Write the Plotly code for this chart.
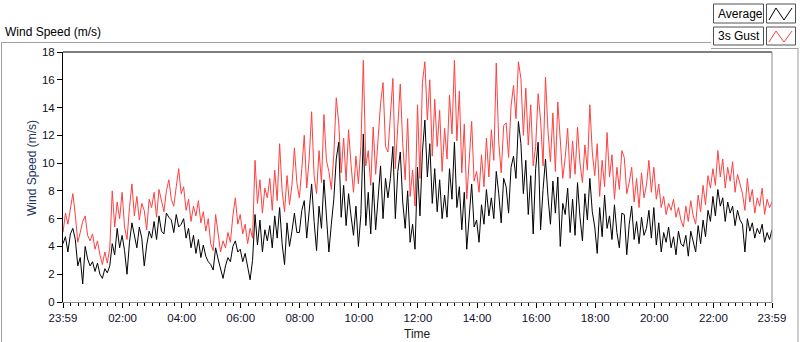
import plotly.graph_objects as go
import pandas as pd

# ---- data: 5-minute samples from 23:59 to 23:59 next day ----
gust = [
    5.0, 6.4, 5.6, 6.9, 7.8, 6.3, 4.3, 5.0, 5.8, 6.2, 4.8, 4.4,
    4.9, 3.8, 4.4, 3.4, 2.7, 3.6, 2.8, 3.9, 8.0, 5.4, 7.2, 6.0,
    7.9, 5.4, 4.5, 6.8, 8.5, 6.2, 7.6, 5.9, 7.1, 6.6, 5.2, 7.4,
    6.8, 7.9, 6.1, 8.1, 7.2, 6.5, 8.0, 8.8, 7.4, 6.9, 8.3, 9.6,
    7.8, 8.3, 6.6, 7.4, 5.8, 6.9, 6.2, 7.3, 5.7, 6.5, 5.1, 6.0,
    4.2, 3.7, 6.3, 4.8, 3.6, 4.4, 3.9, 5.0, 4.3, 6.2, 7.5, 5.6,
    6.3, 4.9, 5.6, 4.2, 5.3, 4.6, 10.2, 7.1, 8.8, 6.4, 8.2, 7.5,
    8.9, 6.6, 9.5, 7.3, 11.4, 8.0, 6.5, 9.1, 7.0, 8.4, 11.1, 8.6,
    7.5, 9.6, 12.0, 8.2, 10.3, 13.7, 9.1, 7.8, 10.9, 8.6, 13.5, 10.2,
    9.4, 8.1, 10.6, 14.7, 12.9, 9.3, 11.8, 8.7, 12.4, 9.9, 7.9, 10.5,
    8.5, 11.2, 17.4, 9.8, 10.9, 8.4, 12.6, 9.2, 11.5, 14.3, 15.8, 11.2,
    10.8, 13.5, 16.1, 9.6, 12.9, 15.7, 11.4, 8.8, 13.2, 7.6, 9.5, 6.9,
    14.2, 8.9, 15.8, 17.3, 13.1, 16.0, 10.5, 14.6, 11.2, 13.8, 9.4, 12.5,
    10.3, 14.9, 12.1, 17.4, 11.6, 15.2, 9.3, 12.8, 7.4, 10.1, 13.0, 8.7,
    9.4, 7.9, 10.6, 8.3, 11.8, 9.0, 12.4, 10.2, 17.2, 11.5, 9.3, 12.7,
    12.9, 10.4, 14.1, 15.6, 13.2, 17.3, 16.1, 12.0, 15.4, 11.3, 14.2, 9.8,
    11.2, 15.0, 13.1, 9.8, 16.2, 12.3, 10.1, 13.6, 9.4, 14.4, 11.7, 8.9,
    10.4, 12.5, 8.9, 11.6, 9.2, 12.6, 10.0, 8.6, 11.3, 9.5, 14.2, 10.8,
    9.1, 11.4, 7.6, 10.2, 8.3, 12.2, 9.0, 10.6, 7.4, 9.7, 8.1, 10.9,
    10.4, 7.8, 8.6, 9.7, 7.2, 8.9, 6.8, 9.3, 7.5, 8.4, 10.2, 7.9,
    9.7, 7.4, 8.5, 6.8, 7.6, 6.3, 7.1, 6.6, 7.4, 6.1, 6.8, 5.9,
    5.4, 6.9, 5.8, 7.3, 6.2, 5.6, 7.7, 6.5, 8.4, 7.0, 9.1, 8.2,
    9.6, 8.4, 10.9, 9.0, 10.3, 8.2, 9.7, 8.7, 10.1, 7.9, 9.2, 8.5,
    7.8, 6.6, 8.9, 7.2, 8.1, 6.4, 7.5, 6.9, 8.2, 6.3, 7.4, 6.8, 7.2,
]

average = [
    4.2, 4.7, 3.6, 4.9, 5.3, 4.5, 2.6, 3.2, 1.3, 4.0, 3.1, 2.6,
    2.9, 2.2, 2.8, 2.0, 1.7, 2.4, 2.1, 2.6, 4.2, 3.4, 5.3, 3.9,
    4.8, 3.7, 2.0, 4.3, 5.7, 4.9, 3.9, 5.4, 4.6, 2.6, 4.1, 5.1,
    4.6, 5.8, 4.5, 6.2, 5.1, 4.9, 6.4, 6.1, 5.9, 5.0, 6.3, 5.4,
    5.6, 6.0, 4.6, 5.3, 3.9, 4.8, 3.5, 4.5, 3.2, 4.1, 3.3, 2.9,
    2.7, 2.3, 3.9, 3.1, 2.4, 1.7, 2.6, 3.2, 2.9, 4.0, 4.4, 3.6,
    3.8, 2.9, 3.5, 2.6, 1.6, 3.0, 6.3, 4.1, 5.9, 3.6, 5.2, 4.4,
    5.5, 3.9, 6.2, 4.6, 6.8, 4.2, 2.7, 5.7, 4.0, 5.1, 6.4, 5.0,
    5.0, 6.6, 7.3, 4.6, 6.8, 8.5, 5.8, 3.7, 6.9, 5.3, 8.8, 6.4,
    3.6, 5.6, 7.4, 10.3, 11.5, 6.1, 8.4, 5.5, 7.8, 6.2, 4.8, 6.9,
    4.0, 6.3, 12.1, 5.5, 7.9, 4.9, 8.6, 5.2, 7.2, 9.8, 6.0, 8.9,
    7.5, 8.9, 11.2, 6.0, 9.4, 10.8, 7.2, 5.3, 8.0, 4.3, 5.6, 3.8,
    9.7, 6.2, 10.8, 13.1, 9.0, 11.4, 7.1, 9.6, 6.5, 8.8, 6.0, 7.7,
    6.1, 9.6, 7.4, 11.5, 6.8, 8.3, 5.2, 7.9, 3.8, 6.0, 8.5, 5.4,
    5.9, 4.3, 7.0, 5.6, 8.1, 6.2, 7.5, 6.0, 9.4, 7.8, 5.7, 8.9,
    8.3, 6.4, 9.7, 10.5, 8.9, 13.0, 11.4, 7.8, 10.2, 6.3, 9.1, 4.9,
    9.6, 11.5, 5.2, 8.1, 10.3, 7.6, 5.6, 8.7, 6.4, 9.0, 4.0, 7.1,
    6.3, 8.2, 5.0, 7.4, 4.8, 8.6, 6.1, 4.4, 7.8, 5.9, 8.9, 6.5,
    5.4, 3.5, 6.8, 4.7, 7.7, 5.3, 6.2, 4.5, 7.0, 5.0, 3.9, 6.4,
    6.3, 3.4, 5.6, 6.9, 4.5, 5.8, 4.2, 6.1, 4.8, 5.3, 6.6, 4.6,
    6.8, 4.1, 5.7, 3.6, 5.0, 4.3, 5.4, 3.9, 4.7, 3.4, 5.1, 4.2,
    4.0, 4.8, 3.3, 5.1, 4.4, 3.6, 5.5, 4.2, 5.9, 4.7, 6.6, 5.8,
    7.6, 6.2, 8.1, 6.9, 7.5, 5.8, 7.2, 6.4, 6.9, 5.5, 6.6, 5.9,
    5.6, 3.6, 6.0, 5.1, 5.7, 4.6, 5.3, 4.9, 5.6, 4.3, 5.0, 4.5, 5.2,
]

times = pd.date_range("2024-01-01 23:59", periods=len(gust), freq="5min")

tick_times = ["2024-01-01 23:59", "2024-01-02 02:00", "2024-01-02 04:00",
              "2024-01-02 06:00", "2024-01-02 08:00", "2024-01-02 10:00",
              "2024-01-02 12:00", "2024-01-02 14:00", "2024-01-02 16:00",
              "2024-01-02 18:00", "2024-01-02 20:00", "2024-01-02 22:00",
              "2024-01-02 23:59"]
tick_labels = ["23:59", "02:00", "04:00", "06:00", "08:00", "10:00", "12:00",
               "14:00", "16:00", "18:00", "20:00", "22:00", "23:59"]
y_ticks = [0, 2, 4, 6, 8, 10, 12, 14, 16, 18]

series_names = ["Average", "3s Gust"]

# ---- layout geometry (pixels) ----
W, H = 800, 342
L, R, T, B = 63, 772, 52, 302
FONT = "Liberation Sans"
RED = "#ff4040"


def px(x):
    return (x - L) / (R - L)


def py(y):
    return (B - y) / (B - T)


fig = go.Figure()
fig.add_trace(go.Scatter(x=times, y=gust, mode="lines", name=series_names[1],
                         line=dict(color=RED, width=1)))
fig.add_trace(go.Scatter(x=times, y=average, mode="lines", name=series_names[0],
                         line=dict(color="black", width=1)))

shapes = []
# plot frame: black top, gray right
shapes.append(dict(type="line", xref="paper", yref="paper", x0=0, x1=1, y0=1, y1=1,
                   line=dict(color="black", width=1)))
shapes.append(dict(type="line", xref="paper", yref="paper", x0=1, x1=1, y0=0, y1=1,
                   line=dict(color="#8c8c8c", width=1)))
# outer gray frame
GRAY = "#a0a0a0"
shapes.append(dict(type="line", xref="paper", yref="paper", x0=px(1.5), x1=px(1.5),
                   y0=py(42), y1=py(345), line=dict(color=GRAY, width=1)))
shapes.append(dict(type="line", xref="paper", yref="paper", x0=px(1), x1=px(711),
                   y0=py(42.5), y1=py(42.5), line=dict(color=GRAY, width=1)))
shapes.append(dict(type="line", xref="paper", yref="paper", x0=px(711), x1=px(798),
                   y0=py(48.5), y1=py(48.5), line=dict(color=GRAY, width=1)))
shapes.append(dict(type="line", xref="paper", yref="paper", x0=px(798), x1=px(798),
                   y0=py(48), y1=py(345), line=dict(color=GRAY, width=1)))

# legend boxes
annotations = []
legend_rows = [(series_names[0], "black", 4, 23), (series_names[1], RED, 27, 45)]
for name, col, y0, y1 in legend_rows:
    shapes.append(dict(type="rect", xref="paper", yref="paper", x0=px(713.5), x1=px(763.5),
                       y0=py(y1), y1=py(y0), line=dict(color="#505050", width=1),
                       fillcolor="white"))
    shapes.append(dict(type="rect", xref="paper", yref="paper", x0=px(766.5), x1=px(795.5),
                       y0=py(y1), y1=py(y0), line=dict(color="#505050", width=1),
                       fillcolor="white"))
    pts = [(769, y1 - 3), (776, y0 + 4), (784, y1 - 3), (792, y0 + 4)]
    path = "M " + " L ".join(f"{px(a):.5f},{py(b):.5f}" for a, b in pts)
    shapes.append(dict(type="path", xref="paper", yref="paper", path=path,
                       line=dict(color=col, width=1)))
    annotations.append(dict(text=name, xref="paper", yref="paper", x=px(716), y=py((y0 + y1) / 2),
                            xanchor="left", yanchor="middle", showarrow=False,
                            font=dict(family=FONT, size=12, color="black")))

annotations.append(dict(text="Wind Speed (m/s)", xref="paper", yref="paper", x=px(3), y=py(32),
                        xanchor="left", yanchor="middle", showarrow=False,
                        font=dict(family=FONT, size=12, color="black")))
annotations.append(dict(text="Wind Speed (m/s)", xref="paper", yref="paper", x=px(32), y=py(168),
                        xanchor="center", yanchor="middle", textangle=-90, showarrow=False,
                        font=dict(family=FONT, size=12, color="#1f3560")))
annotations.append(dict(text="Time", xref="paper", yref="paper", x=px(417), y=py(334),
                        xanchor="center", yanchor="middle", showarrow=False,
                        font=dict(family=FONT, size=12, color="#1a1a1a")))

fig.update_layout(
    width=W, height=H,
    margin=dict(l=L, r=W - R, t=T, b=H - B, pad=0),
    paper_bgcolor="white", plot_bgcolor="white",
    showlegend=False,
    shapes=shapes, annotations=annotations,
    font=dict(family=FONT, size=12, color="#101020"),
)
fig.update_xaxes(
    type="date", range=[tick_times[0], tick_times[-1]],
    tickmode="array", tickvals=tick_times, ticktext=tick_labels,
    ticks="outside", ticklen=5, tickcolor="black", tickwidth=1,
    showline=True, linecolor="#8c8c8c", linewidth=1, showgrid=False, zeroline=False,
    tickfont=dict(family=FONT, size=11.5, color="#101030"),
    minor=dict(ticks="outside", ticklen=3, tickcolor="black", tickwidth=1,
               dtick=15 * 60 * 1000, tick0="2024-01-02 00:00", showgrid=False),
)
fig.update_yaxes(
    range=[0, 18], tickmode="array", tickvals=y_ticks,
    ticks="outside", ticklen=5, tickcolor="black", tickwidth=1,
    showline=True, linecolor="black", linewidth=1, showgrid=False, zeroline=False,
    tickfont=dict(family=FONT, size=11.5, color="#101020"),
)

fig.write_html("out.html", config={"displayModeBar": False},
               post_script="document.body.style.margin='0';document.body.style.overflow='hidden';")
